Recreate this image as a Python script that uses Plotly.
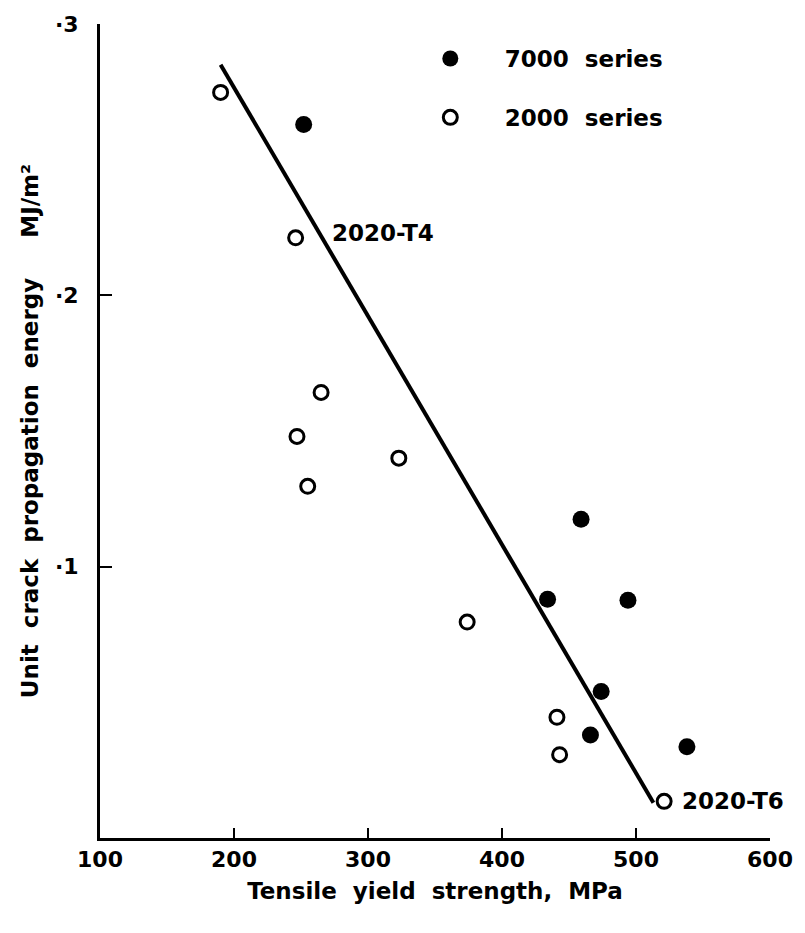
import plotly.graph_objects as go

# Tensile yield strength (MPa) and unit crack propagation energy (MJ/m^2)
ys_7000 = [252, 459, 434, 494, 474, 466, 538]
ucp_7000 = [0.263, 0.1175, 0.088, 0.0876, 0.054, 0.038, 0.0336]

ys_2000 = [190, 246, 265, 247, 255, 323, 374, 441, 443, 521]
ucp_2000 = [0.2748, 0.2212, 0.1642, 0.148, 0.1296, 0.140, 0.0796, 0.0445, 0.0307, 0.0135]

# Trend line end points
trend_x = [190, 513]
trend_y = [0.285, 0.013]

x_ticks = [100, 200, 300, 400, 500, 600]
y_ticks = [0.1, 0.2, 0.3]
y_tick_text = ["\u00b71", "\u00b72", "\u00b73"]

FONT = "DejaVu Sans"
SP = "\u2002"  # en space used to pad legend labels

fig = go.Figure()

fig.add_trace(go.Scatter(
    x=trend_x, y=trend_y, mode="lines",
    line=dict(color="black", width=4),
    showlegend=False, hoverinfo="skip",
))

fig.add_trace(go.Scatter(
    x=ys_7000, y=ucp_7000, mode="markers", name=SP * 3 + "7000  series",
    legendgroup="a",
    marker=dict(symbol="circle", size=17, color="black"),
))

fig.add_trace(go.Scatter(
    x=ys_2000, y=ucp_2000, mode="markers", name=SP * 3 + "2000  series",
    legendgroup="b",
    marker=dict(symbol="circle-open", size=14, color="black",
                line=dict(width=3, color="black")),
))

fig.add_annotation(x=272, y=0.223, text="<b>2020-T4</b>", showarrow=False,
                   xanchor="left", yanchor="middle",
                   font=dict(family=FONT, size=23, color="black"))
fig.add_annotation(x=533, y=0.0135, text="<b>2020-T6</b>", showarrow=False,
                   xanchor="left", yanchor="middle",
                   font=dict(family=FONT, size=23, color="black"))

fig.update_layout(
    width=805, height=933,
    margin=dict(l=100, r=29, t=17, b=95),
    paper_bgcolor="white", plot_bgcolor="white",
    font=dict(family=FONT, size=20, color="black"),
    showlegend=True,
    legend=dict(
        x=0.493, y=0.984, xanchor="left", yanchor="top",
        bgcolor="rgba(0,0,0,0)",
        traceorder="grouped", tracegroupgap=26,
        font=dict(family=FONT, size=23, color="black", weight="bold"),
        itemsizing="trace", itemwidth=30,
    ),
    xaxis=dict(
        range=[100, 600], tickvals=x_ticks,
        showgrid=False, zeroline=False,
        showline=True, linecolor="black", linewidth=3,
        ticks="inside", ticklen=10, tickwidth=2, tickcolor="black",
        tickfont=dict(family=FONT, size=22, color="black", weight="bold"),
        title=dict(text="<b>Tensile  yield  strength,  MPa</b>",
                   font=dict(family=FONT, size=23, color="black"),
                   standoff=12),
    ),
    yaxis=dict(
        range=[0, 0.3], tickvals=y_ticks, ticktext=y_tick_text,
        showgrid=False, zeroline=False,
        showline=True, linecolor="black", linewidth=3,
        ticks="inside", ticklen=12, tickwidth=2, tickcolor="black",
        ticklabelstandoff=14,
        tickfont=dict(family=FONT, size=22, color="black", weight="bold"),
        title=dict(text="<b>Unit  crack  propagation  energy     MJ/m\u00b2</b>",
                   font=dict(family=FONT, size=23, color="black"),
                   standoff=10),
    ),
)

fig.write_html("out.html")
